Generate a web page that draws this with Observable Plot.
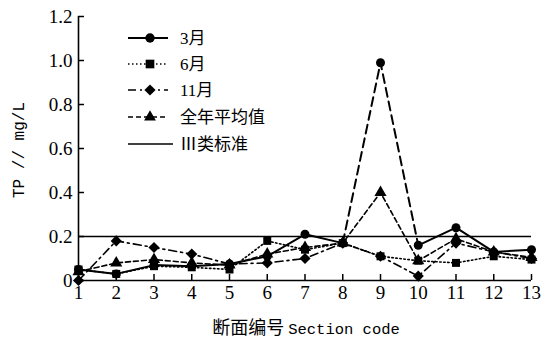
<!DOCTYPE html>
<html><head><meta charset="utf-8">
<script src="https://cdn.jsdelivr.net/npm/d3@7"></script>
<script src="https://cdn.jsdelivr.net/npm/@observablehq/plot@0.6"></script>
<style>body{margin:0;background:#fff} svg{display:block}</style>
</head><body><div id="chart"></div>
<script>
// ---- data ----
const sections = [1,2,3,4,5,6,7,8,9,10,11,12,13];
const march    = [0.05,0.03,0.07,0.065,0.075,0.11,0.21,0.17,0.99,0.16,0.24,0.13,0.14];
const june     = [0.05,0.03,0.065,0.06,0.05,0.18,0.14,0.17,0.11,0.09,0.08,0.11,0.095];
const november = [0.0,0.18,0.15,0.12,0.075,0.08,0.10,0.17,0.11,0.02,0.17,0.13,0.10];
const average  = [0.04,0.08,0.095,0.08,0.07,0.12,0.15,0.17,0.40,0.09,0.19,0.13,0.105];
const standard = [0.2];
const yTicks = [0,0.2,0.4,0.6,0.8,1.0,1.2];
const seriesNames = ["3月","6月","11月","全年平均值","Ⅲ类标准"];
const xTitleCJK = "断面编号";
const xTitleLatin = "Section code";
const yTitle = "TP // mg/L";

const serif = "'Liberation Serif','Noto Sans CJK SC',serif";
const rows = (vals) => sections.map((s,i)=>({section:s, value:vals[i]}));
const mRows = rows(march);
const mSolid = mRows.map(d=>({...d, seg: d.section<=8 ? "a" : (d.section>=10 ? "b" : null)})).filter(d=>d.seg);
const mDash = mRows.filter(d=>d.section>=8 && d.section<=10);
const jRows = rows(june), nRows = rows(november), aRows = rows(average);

const chart = Plot.plot({
  width: 541, height: 339,
  marginLeft: 78, marginRight: 10, marginTop: 16, marginBottom: 59,
  style: {fontFamily: serif, fontSize: "19px", background: "#fff", color: "#000", overflow: "visible"},
  x: {domain: [1,13]},
  y: {domain: [0,1.2]},
  marks: [
    Plot.ruleY(standard, {stroke:"#000", strokeWidth:1.6}),
    Plot.line(mSolid, {x:"section", y:"value", z:"seg", stroke:"#000", strokeWidth:2}),
    Plot.line(mDash, {x:"section", y:"value", stroke:"#000", strokeWidth:2, strokeDasharray:"9,5"}),
    Plot.line(jRows, {x:"section", y:"value", stroke:"#000", strokeWidth:1.6, strokeDasharray:"1.5,2.5"}),
    Plot.line(nRows, {x:"section", y:"value", stroke:"#000", strokeWidth:1.6, strokeDasharray:"8,4,2,4"}),
    Plot.line(aRows, {x:"section", y:"value", stroke:"#000", strokeWidth:1.6, strokeDasharray:"5,3"}),
    Plot.dot(jRows, {x:"section", y:"value", symbol:"square", fill:"#000", r:4.5}),
    Plot.dot(nRows, {x:"section", y:"value", symbol:"diamond2", fill:"#000", r:5}),
    Plot.dot(aRows, {x:"section", y:"value", symbol:"triangle", fill:"#000", r:4.5}),
    Plot.dot(mRows, {x:"section", y:"value", symbol:"circle", fill:"#000", r:4.5}),
    Plot.ruleY([0], {stroke:"#000", strokeWidth:1.6}),
    Plot.ruleX([1], {stroke:"#000", strokeWidth:1.6}),
    // inward tick marks (no labels)
    Plot.axisX({ticks: sections, tickSize: 6, dy: -6, tickFormat: () => "", strokeWidth: 1.5, label: null}),
    Plot.axisY({ticks: yTicks, tickSize: 6, dx: 6, tickFormat: () => "", strokeWidth: 1.5, label: null}),
    // labels
    Plot.axisX({ticks: sections, tickSize: 0, tickPadding: 5, tickFormat: d=>String(d), label: null}),
    Plot.axisY({ticks: yTicks, tickSize: 0, tickPadding: 6, tickFormat: d=> d===0 ? "0" : d.toFixed(1), label: null})
  ]
});
document.getElementById("chart").appendChild(chart);

const svg = d3.select(chart);
// x title
const xt = svg.append("text").attr("x", 306).attr("y", 334).attr("text-anchor","middle").attr("fill","#000");
xt.append("tspan").attr("font-family","'Noto Sans CJK SC',sans-serif").attr("font-size","18px").text(xTitleCJK + " ");
xt.append("tspan").attr("font-family","'Liberation Mono',monospace").attr("font-size","15.5px").text(xTitleLatin);
// y title
svg.append("text").attr("transform","translate(24,150) rotate(-90)").attr("text-anchor","middle")
  .attr("font-family", "'Liberation Mono','Noto Sans CJK SC',monospace").attr("font-size","16px").attr("fill","#000").text(yTitle);

// legend
const legendY = [38,64,90,117,144];
const styles = [
  {dash:null, w:2, sym:d3.symbolCircle, size:70},
  {dash:"1.5,2.5", w:1.6, sym:d3.symbolSquare, size:75},
  {dash:"8,4,2,4", w:1.6, sym:d3.symbolDiamond2, size:80},
  {dash:"5,3", w:1.6, sym:d3.symbolTriangle, size:60},
  {dash:null, w:1.6, sym:null}
];
const lg = svg.append("g");
seriesNames.forEach((name,i)=>{
  const y = legendY[i], s = styles[i];
  const x2 = i===4 ? 173 : 168;
  lg.append("line").attr("x1",128).attr("x2",x2).attr("y1",y).attr("y2",y)
    .attr("stroke","#000").attr("stroke-width",s.w).attr("stroke-dasharray",s.dash);
  if (s.sym) lg.append("path").attr("d", d3.symbol(s.sym, s.size)()).attr("transform",`translate(150,${y})`).attr("fill","#000");
  lg.append("text").attr("x",180).attr("y",y).attr("dy","0.36em").attr("text-anchor","start")
    .attr("font-family", serif).attr("font-size","17px").attr("fill","#000").text(name);
});
</script>
</body></html>
